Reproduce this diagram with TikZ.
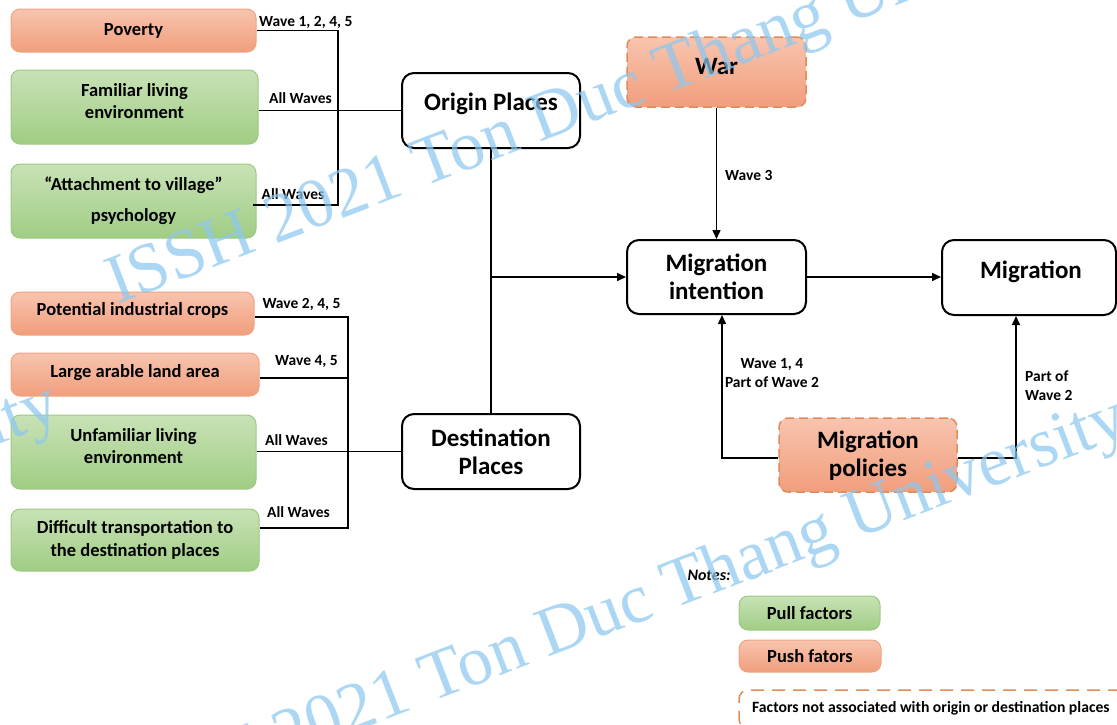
\documentclass[tikz,border=0pt]{standalone}
\usepackage{fontspec}
\setmainfont{Carlito}
\newfontfamily\wmfont{Liberation Serif}
\usetikzlibrary{arrows.meta,calc}

\definecolor{pushtop}{RGB}{248,196,175}
\definecolor{pushbot}{RGB}{241,158,124}
\definecolor{pushline}{RGB}{238,165,130}
\definecolor{pulltop}{RGB}{200,226,182}
\definecolor{pullbot}{RGB}{160,205,132}
\definecolor{pullline}{RGB}{158,200,130}
\definecolor{dashline}{RGB}{222,140,90}
\definecolor{wmblue}{RGB}{140,200,240}

\tikzset{
  factor/.style={rounded corners=9pt, draw, line width=1pt, align=center, inner sep=0pt,
    font=\fontsize{18.5}{22.5}\selectfont\bfseries},
  push/.style={factor, draw=pushline, top color=pushtop, bottom color=pushbot},
  pull/.style={factor, draw=pullline, top color=pulltop, bottom color=pullbot},
  external/.style={push, draw=dashline, line width=1.5pt, dash pattern=on 9pt off 5pt},
  place/.style={draw=black, line width=2pt, rounded corners=12pt, fill=white, align=center,
    inner sep=0pt, font=\fontsize{25}{28}\selectfont\bfseries},
  boxtext/.style={inner sep=0pt, align=center},
  bigtext/.style={boxtext, font=\fontsize{25}{28}\selectfont\bfseries},
  smalltext/.style={boxtext, font=\fontsize{18.5}{22.5}\selectfont\bfseries},
  lbl/.style={font=\fontsize{15.5}{19}\selectfont\bfseries, inner sep=0pt, align=center},
  link/.style={line width=1.5pt, draw=black},
  arr/.style={link, -{Triangle[length=9pt,width=8pt]}},
  wm/.style={font=\wmfont\fontsize{70}{80}\selectfont, text=wmblue, text opacity=0.72,
    inner sep=0pt, rotate=21}
}

\begin{document}
\begin{tikzpicture}[x=1pt, y=-1pt]
\useasboundingbox (0,0) rectangle (1117,724);
\clip (0,0) rectangle (1117,724);

% factors at the origin places
\node[push, minimum width=245pt, minimum height=43pt] (pov) at (133.5,30.5) {Poverty};
\node[pull, minimum width=247pt, minimum height=74pt] (fam) at (134.5,107) {};
\node[smalltext] (famT) at ($(fam.center)+(0,-6)$) {Familiar living\\environment};
\node[pull, minimum width=245pt, minimum height=74pt] (att) at (133.5,201) {“Attachment to village”\\[8.5pt]psychology};

% factors at the destination places
\node[push, minimum width=243pt, minimum height=43pt] (pot) at (132.5,313.5) {};
\node[smalltext] (potT) at ($(pot.center)+(0,-3)$) {Potential industrial crops};
\node[push, minimum width=248pt, minimum height=43pt] (lar) at (135,374.5) {};
\node[smalltext] (larT) at ($(lar.center)+(0,-2)$) {Large arable land area};
\node[pull, minimum width=245pt, minimum height=74pt] (unf) at (133.5,452) {};
\node[smalltext] (unfT) at ($(unf.center)+(0,-6)$) {Unfamiliar living\\environment};
\node[pull, minimum width=248pt, minimum height=62pt] (dif) at (135,540) {Difficult transportation to\\the destination places};

% places and outcomes
\node[place, minimum width=178pt, minimum height=75pt] (orig) at (491,110.5) {};
\node[bigtext] (origT) at ($(orig.center)+(0,-6.5)$) {Origin Places};
\node[place, minimum width=178pt, minimum height=75pt] (dest) at (491,451.5) {Destination\\Places};
\node[place, minimum width=179pt, minimum height=74pt] (mi) at (716.5,277) {Migration\\intention};
\node[place, minimum width=174pt, minimum height=75pt] (mig) at (1029,277.5) {};
\node[bigtext] (migT) at ($(mig.center)+(2,-5.5)$) {Migration};
\node[external, minimum width=179pt, minimum height=70pt] (war) at (716.5,72) {};
\node[bigtext] (warT) at ($(war.center)+(0,-6)$) {War};
\node[external, minimum width=178pt, minimum height=74pt] (pol) at (868,455) {};
\node[bigtext] (polT) at ($(pol.center)+(0,1)$) {Migration\\policies};

% bus lines of the factor groups
\coordinate (busA) at (338,0);
\coordinate (busB) at (348,0);
\coordinate (attE) at ($(att.east)+(-4,4)$);
\draw[link] (pov.east) -- (pov.east -| busA) -- (attE -| busA) -- (attE);
\draw[link] (fam.east |- orig.west) -- (orig.west);

\coordinate (potE) at ($(pot.east)+(0,3.5)$);
\coordinate (larE) at ($(lar.east)+(0,3.5)$);
\coordinate (difE) at ($(dif.east)+(0,-12)$);
\draw[link] (potE) -- (potE -| busB) -- (difE -| busB) -- (difE);
\draw[link] (larE) -- (larE -| busB);
\draw[link] (unf.east |- dest.west) -- (dest.west);

% connector labels of the factor groups
\node[lbl, anchor=west] at (259,22) {Wave 1, 2, 4, 5};
\node[lbl] at (300.5,98) {All Waves};
\node[lbl] at (293,194) {All Waves};
\node[lbl] at (301.5,304) {Wave 2, 4, 5};
\node[lbl] at (306.5,362) {Wave 4, 5};
\node[lbl] at (296.5,440) {All Waves};
\node[lbl] at (298.5,512) {All Waves};

% places towards migration intention
\draw[link] (orig.south) -- (dest.north);
\coordinate (jn) at (orig.south |- mi.west);
\draw[arr] (jn) -- (mi.west);

\draw[arr] (war.south) -- (mi.north);
\node[lbl, anchor=west] at (725,175) {Wave 3};

\draw[arr] (mi.east) -- (mi.east -| mig.west);

\coordinate (polW) at ($(pol.west)+(0,3)$);
\coordinate (polE) at ($(pol.east)+(0,3)$);
\coordinate (miIn) at ($(mi.south)+(5.5,0)$);
\coordinate (migIn) at ($(mig.south)+(-13,0)$);
\draw[arr] (polW) -| (miIn);
\draw[arr] (polE) -| (migIn);
\node[lbl] at (772,373) {Wave 1, 4\\Part of Wave 2};
\node[lbl, align=left, anchor=west] at (1025,386) {Part of\\Wave 2};

% legend
\node[font=\fontsize{16}{19}\selectfont\bfseries\itshape, inner sep=0pt] (notes) at (709,575) {Notes:};
\node[pull, minimum width=141pt, minimum height=34pt] (kpull) at (809.5,613) {Pull factors};
\node[push, minimum width=142pt, minimum height=32pt] (kpush) at (810,656) {Push fators};
\node[draw=dashline, line width=1.5pt, dash pattern=on 13pt off 8pt, rounded corners=9pt,
  minimum width=391pt, minimum height=38pt] (kext) at (934.5,709) {};
\node[font=\fontsize{15.7}{18}\selectfont\bfseries, inner sep=0pt, anchor=west] (kexttext) at (752,708)
  {Factors not associated with origin or destination places};

% watermark
\node[wm, anchor=base west] (wm1) at (117,305) {ISSH 2021 Ton Duc Thang University};
\node[wm, anchor=base west] (wm2) at (125,820) {ISSH 2021 Ton Duc Thang University};
\node[wm, anchor=base east] (wm3) at (63,420) {ISSH 2021 Ton Duc Thang University};
\end{tikzpicture}
\end{document}
